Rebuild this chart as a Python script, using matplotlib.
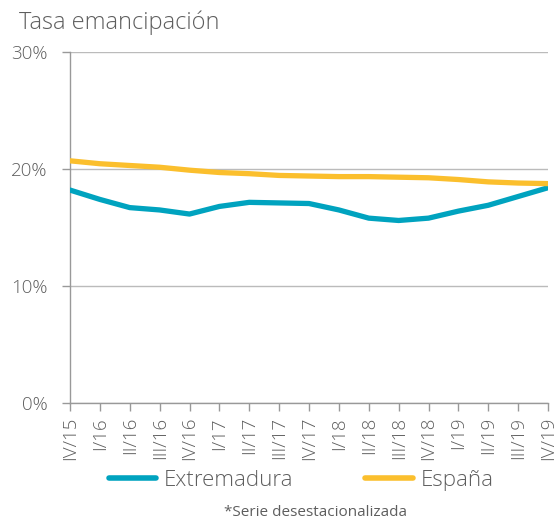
import matplotlib
matplotlib.use("Agg")
import matplotlib.pyplot as plt
from matplotlib.ticker import FuncFormatter

categories = ["IV/15", "I/16", "II/16", "III/16", "IV/16", "I/17", "II/17", "III/17", "IV/17",
              "I/18", "II/18", "III/18", "IV/18", "I/19", "II/19", "III/19", "IV/19"]
extremadura = [18.2, 17.4, 16.7, 16.5, 16.15, 16.8, 17.15, 17.1, 17.05,
               16.5, 15.8, 15.6, 15.8, 16.4, 16.9, 17.65, 18.4]
espana = [20.7, 20.45, 20.3, 20.15, 19.9, 19.7, 19.6, 19.45, 19.4,
          19.35, 19.35, 19.3, 19.25, 19.1, 18.9, 18.8, 18.75]
yticks = [0, 10, 20, 30]

plt.rcParams['font.family'] = ['Open Sans', 'DejaVu Sans']
gray = '#5E5E5E'
col_ext = '#00A3BF'
col_esp = '#FBBF2D'

fig = plt.figure(figsize=(5.6, 5.23), dpi=100)
ax = fig.add_axes([0.125, 0.2294, 0.8536, 0.6712])
x = list(range(len(categories)))
ax.plot(x, extremadura, color=col_ext, lw=3.8, solid_capstyle='round', solid_joinstyle='round',
        label='Extremadura', zorder=3)
ax.plot(x, espana, color=col_esp, lw=3.8, solid_capstyle='round', solid_joinstyle='round',
        label='España', zorder=3)

ax.set_xlim(0, len(categories) - 1)
ax.set_ylim(0, 30)
ax.set_yticks(yticks)
ax.yaxis.set_major_formatter(FuncFormatter(lambda v, p: f"{int(v)}%"))
ax.set_xticks(x)
ax.set_xticklabels(categories, rotation=90, fontsize=13.5, color=gray, fontweight='light')
for lab in ax.get_yticklabels():
    lab.set_fontsize(13.5)
    lab.set_color(gray)
    lab.set_fontweight('light')
ax.grid(axis='y', color='#BBBBBB', lw=1)
ax.set_axisbelow(True)
for s in ['top', 'right']:
    ax.spines[s].set_visible(False)
for s in ['left', 'bottom']:
    ax.spines[s].set_color('#999999')
    ax.spines[s].set_linewidth(1)
ax.tick_params(axis='both', color='#999999', length=6, width=1)
ax.tick_params(axis='y', pad=10)
ax.tick_params(axis='x', pad=4)

fig.text(0.034, 0.956, "Tasa emancipación", fontsize=17, color=gray, fontweight='light',
         ha='left', va='center')
leg = fig.legend(loc='center', bbox_to_anchor=(0.5375, 0.082), ncol=2, frameon=False,
                 fontsize=16, handlelength=2.15, columnspacing=3.2, handletextpad=0.35)
for t in leg.get_texts():
    t.set_color(gray)
    t.set_fontweight('light')
for h in leg.get_lines():
    h.set_linewidth(4)
fig.text(0.5625, 0.02, "*Serie desestacionalizada", fontsize=11, color=gray,
         ha='center', va='center')
fig.savefig("out.png", dpi=100)
